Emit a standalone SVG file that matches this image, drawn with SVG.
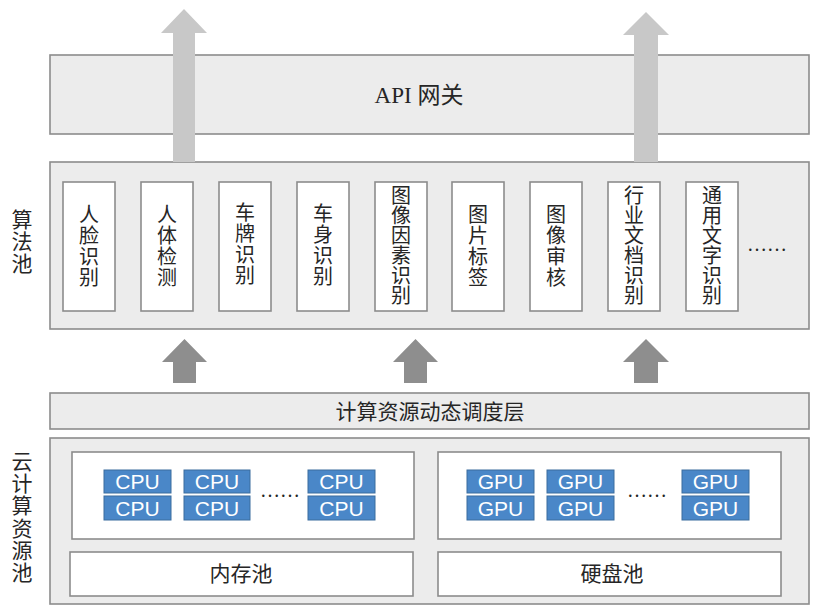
<svg xmlns="http://www.w3.org/2000/svg" width="822" height="613" viewBox="0 0 822 613">
<style>
.layer{fill:#ececec;stroke:#8c8c8c;stroke-width:1.6}
.box{fill:#ffffff;stroke:#8c8c8c;stroke-width:1.6}
.chip{fill:#4a87c8;stroke:#3b6c9e;stroke-width:1}
.t{font-family:"Liberation Serif","Noto Sans CJK SC",serif;fill:#262626;text-anchor:middle}
.chipt{font-family:"Liberation Sans",Arial,sans-serif;font-size:21px;fill:#ffffff;text-anchor:middle}
.arrL{fill:#c8c8c8}
.arrD{fill:#8e8e8e}
</style>
<rect width="822" height="613" fill="#ffffff"/>

<g id="api-gateway">
<rect class="layer" x="50" y="55" width="759" height="79"/>
<text class="t" x="419" y="103" font-size="23">API 网关</text>
</g>

<g id="algorithm-pool">
<rect class="layer" x="50" y="162" width="759" height="167"/>
<text class="t" font-size="21"><tspan x="22" y="227">算</tspan><tspan x="22" y="249">法</tspan><tspan x="22" y="271">池</tspan></text>
</g>

<g id="algo-face">
<rect class="box" x="63" y="182" width="52" height="129"/>
<text class="t" font-size="20"><tspan x="89" y="222">人</tspan><tspan x="89" y="243">脸</tspan><tspan x="89" y="264">识</tspan><tspan x="89" y="285">别</tspan></text>
</g>
<g id="algo-body">
<rect class="box" x="141" y="182" width="52" height="129"/>
<text class="t" font-size="20"><tspan x="167" y="222">人</tspan><tspan x="167" y="243">体</tspan><tspan x="167" y="264">检</tspan><tspan x="167" y="285">测</tspan></text>
</g>
<g id="algo-plate">
<rect class="box" x="219" y="182" width="52" height="129"/>
<text class="t" font-size="20"><tspan x="245" y="220">车</tspan><tspan x="245" y="241">牌</tspan><tspan x="245" y="262">识</tspan><tspan x="245" y="283">别</tspan></text>
</g>
<g id="algo-vehicle">
<rect class="box" x="297" y="182" width="52" height="129"/>
<text class="t" font-size="20"><tspan x="323" y="221">车</tspan><tspan x="323" y="242">身</tspan><tspan x="323" y="263">识</tspan><tspan x="323" y="284">别</tspan></text>
</g>
<g id="algo-image-factor">
<rect class="box" x="375" y="182" width="52" height="129"/>
<text class="t" font-size="20"><tspan x="401" y="203">图</tspan><tspan x="401" y="223">像</tspan><tspan x="401" y="243">因</tspan><tspan x="401" y="263">素</tspan><tspan x="401" y="283">识</tspan><tspan x="401" y="303">别</tspan></text>
</g>
<g id="algo-image-tag">
<rect class="box" x="452" y="182" width="52" height="129"/>
<text class="t" font-size="20"><tspan x="478" y="222">图</tspan><tspan x="478" y="243">片</tspan><tspan x="478" y="264">标</tspan><tspan x="478" y="285">签</tspan></text>
</g>
<g id="algo-image-review">
<rect class="box" x="530" y="182" width="52" height="129"/>
<text class="t" font-size="20"><tspan x="556" y="222">图</tspan><tspan x="556" y="243">像</tspan><tspan x="556" y="264">审</tspan><tspan x="556" y="285">核</tspan></text>
</g>
<g id="algo-industry-doc">
<rect class="box" x="608" y="182" width="52" height="129"/>
<text class="t" font-size="20"><tspan x="634" y="203">行</tspan><tspan x="634" y="223">业</tspan><tspan x="634" y="243">文</tspan><tspan x="634" y="263">档</tspan><tspan x="634" y="283">识</tspan><tspan x="634" y="303">别</tspan></text>
</g>
<g id="algo-general-ocr">
<rect class="box" x="686" y="182" width="52" height="129"/>
<text class="t" font-size="20"><tspan x="712" y="203">通</tspan><tspan x="712" y="223">用</tspan><tspan x="712" y="243">文</tspan><tspan x="712" y="263">字</tspan><tspan x="712" y="283">识</tspan><tspan x="712" y="303">别</tspan></text>
</g>
<g id="algo-more">
<text class="t" x="767" y="251" font-size="20">……</text>
</g>

<g id="scheduling-layer">
<rect class="layer" x="50" y="393" width="759" height="36"/>
<text class="t" x="430" y="419" font-size="21">计算资源动态调度层</text>
</g>

<g id="cloud-pool">
<rect class="layer" x="50" y="438" width="759" height="166"/>
<text class="t" font-size="21"><tspan x="22" y="469">云</tspan><tspan x="22" y="491">计</tspan><tspan x="22" y="513">算</tspan><tspan x="22" y="536">资</tspan><tspan x="22" y="558">源</tspan><tspan x="22" y="580">池</tspan></text>
</g>

<g id="cpu-pool">
<rect class="box" x="72" y="452" width="342" height="87"/>
<rect class="chip" x="104" y="470" width="67" height="23"/>
<rect class="chip" x="184" y="470" width="66" height="23"/>
<rect class="chip" x="308" y="470" width="67" height="23"/>
<rect class="chip" x="104" y="496" width="67" height="24"/>
<rect class="chip" x="184" y="496" width="66" height="24"/>
<rect class="chip" x="308" y="496" width="67" height="24"/>
<text class="chipt" x="137.5" y="489">CPU</text>
<text class="chipt" x="217" y="489">CPU</text>
<text class="chipt" x="341.5" y="489">CPU</text>
<text class="chipt" x="137.5" y="515.5">CPU</text>
<text class="chipt" x="217" y="515.5">CPU</text>
<text class="chipt" x="341.5" y="515.5">CPU</text>
<text class="t" x="280" y="497" font-size="20">……</text>
</g>

<g id="gpu-pool">
<rect class="box" x="438" y="452" width="343" height="87"/>
<rect class="chip" x="467" y="470" width="67" height="23"/>
<rect class="chip" x="547" y="470" width="67" height="23"/>
<rect class="chip" x="682" y="470" width="67" height="23"/>
<rect class="chip" x="467" y="496" width="67" height="24"/>
<rect class="chip" x="547" y="496" width="67" height="24"/>
<rect class="chip" x="682" y="496" width="67" height="24"/>
<text class="chipt" x="500.5" y="489">GPU</text>
<text class="chipt" x="580.5" y="489">GPU</text>
<text class="chipt" x="715.5" y="489">GPU</text>
<text class="chipt" x="500.5" y="515.5">GPU</text>
<text class="chipt" x="580.5" y="515.5">GPU</text>
<text class="chipt" x="715.5" y="515.5">GPU</text>
<text class="t" x="647" y="497" font-size="20">……</text>
</g>

<g id="memory-pool">
<rect class="box" x="70" y="552" width="343" height="44"/>
<text class="t" x="241" y="581" font-size="21">内存池</text>
</g>
<g id="disk-pool">
<rect class="box" x="438" y="552" width="343" height="44"/>
<text class="t" x="612" y="581" font-size="21">硬盘池</text>
</g>

<g id="connectors">
<polygon class="arrL" points="173,162 173,33 161,33 184,9 207,33 195,33 195,162"/>
<polygon class="arrL" points="634,162 634,35 623,35 646,12 669,35 658,35 658,162"/>
<polygon class="arrD" points="173,383 173,362 162,362 184.5,339 207,362 196,362 196,383"/>
<polygon class="arrD" points="404,383 404,362 393,362 415.5,339 438,362 427,362 427,383"/>
<polygon class="arrD" points="634,383 634,362 623,362 646,339 669,362 658,362 658,383"/>
</g>
</svg>
